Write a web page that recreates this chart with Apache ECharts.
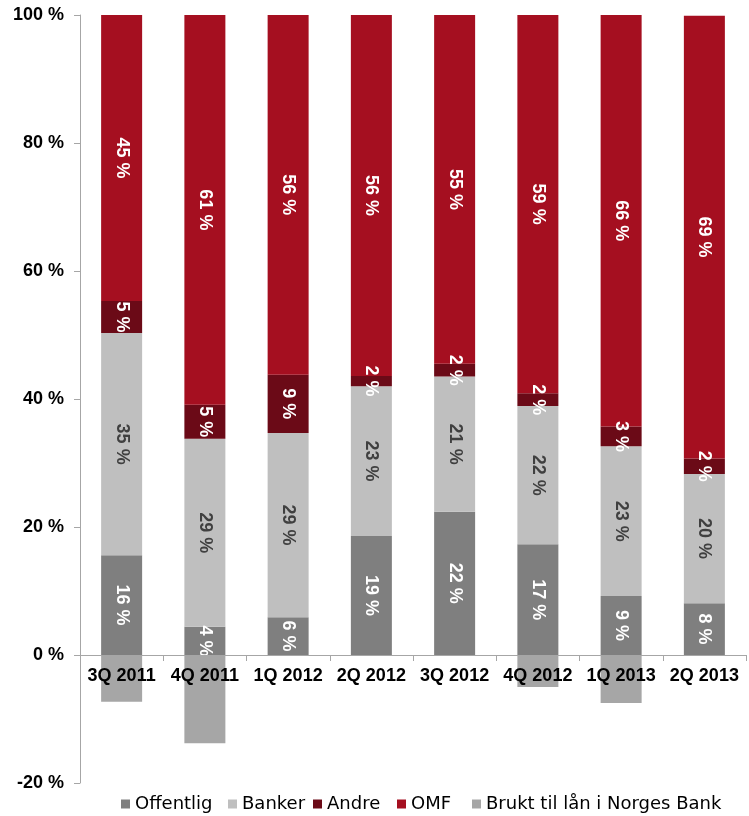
<!DOCTYPE html>
<html><head><meta charset="utf-8">
<script src="https://cdn.jsdelivr.net/npm/echarts@6/dist/echarts.min.js"></script>
<style>html,body{margin:0;padding:0;background:#fff}#c{width:749px;height:816px}</style>
</head><body><div id="c"></div>
<script>
var categories = ['3Q 2011','4Q 2011','1Q 2012','2Q 2012','3Q 2012','4Q 2012','1Q 2013','2Q 2013'];
var offentlig = [15.6, 4.4, 5.9, 18.6, 22.4, 17.3, 9.2, 8.1];
var banker    = [34.7, 29.4, 28.8, 23.4, 21.1, 21.6, 23.4, 20.2];
var andre     = [5.0, 5.3, 9.1, 1.6, 2.0, 2.0, 3.1, 2.4];
var omf       = [44.7, 60.9, 56.2, 56.4, 54.6, 59.1, 66.0, 69.2];
var brukt     = [-7.3, -13.8, null, null, null, -5.0, -7.5, null];
var seriesNames = ['Offentlig','Banker','Andre','OMF','Brukt til lån i Norges Bank'];
var yTicks    = [-20, 0, 20, 40, 60, 80, 100];

var FONT = 'Liberation Sans, Arial, sans-serif';
var chart = echarts.init(document.getElementById('c'));
var gridTop = 15, gridBottom = 33, H = 816;
var plotH = H - gridTop - gridBottom;
var yMin = yTicks[0], yMax = yTicks[yTicks.length-1];
var zeroFromBottom = plotH * (0 - yMin) / (yMax - yMin);

function lbl(color){
  return {show:true, position:'inside', rotate:-90, color:color,
    fontFamily:FONT, fontWeight:'bold', fontSize:18,
    formatter:function(p){return Math.round(p.value)+' %';}};
}
function ser(name, data, color, labelColor){
  return {name:name, type:'bar', stack:'a', data:data, barWidth:41,
    itemStyle:{color:color}, label: labelColor ? lbl(labelColor) : {show:false},
    emphasis:{disabled:true}, clip:true};
}
var legendLefts = [116, 223, 308, 392, 467];
var legends = seriesNames.map(function(n, i){
  return {top:790, left:legendLefts[i], icon:'rect', itemWidth:9, itemHeight:9,
    textStyle:{fontSize:18, color:'#000', fontFamily:'DejaVu Sans, sans-serif'},
    data:[n]};
});
chart.setOption({
  animation:false,
  textStyle:{fontFamily:FONT},
  grid:{left:80, right:3, top:gridTop, bottom:gridBottom},
  legend:legends,
  xAxis:{type:'category', data:categories, offset:-zeroFromBottom, z:10,
    axisLine:{onZero:false, lineStyle:{color:'#a6a6a6'}},
    axisTick:{show:true, length:6, alignWithLabel:false, lineStyle:{color:'#a6a6a6'}},
    axisLabel:{color:'#000', fontWeight:'bold', fontSize:18, margin:12, interval:0}},
  yAxis:{type:'value', min:yMin, max:yMax, interval:20,
    axisLine:{show:true, lineStyle:{color:'#a6a6a6'}},
    axisTick:{show:true, length:6, lineStyle:{color:'#a6a6a6'}},
    splitLine:{show:false},
    axisLabel:{color:'#000', fontWeight:'bold', fontSize:18, margin:16, formatter:'{value} %'}},
  series:[
    ser(seriesNames[0], offentlig, '#7f7f7f', '#ffffff'),
    ser(seriesNames[1], banker, '#bfbfbf', '#404040'),
    ser(seriesNames[2], andre, '#6b0a17', '#ffffff'),
    ser(seriesNames[3], omf, '#a50f20', '#ffffff'),
    ser(seriesNames[4], brukt, '#a6a6a6', null)
  ]
});
</script></body></html>
